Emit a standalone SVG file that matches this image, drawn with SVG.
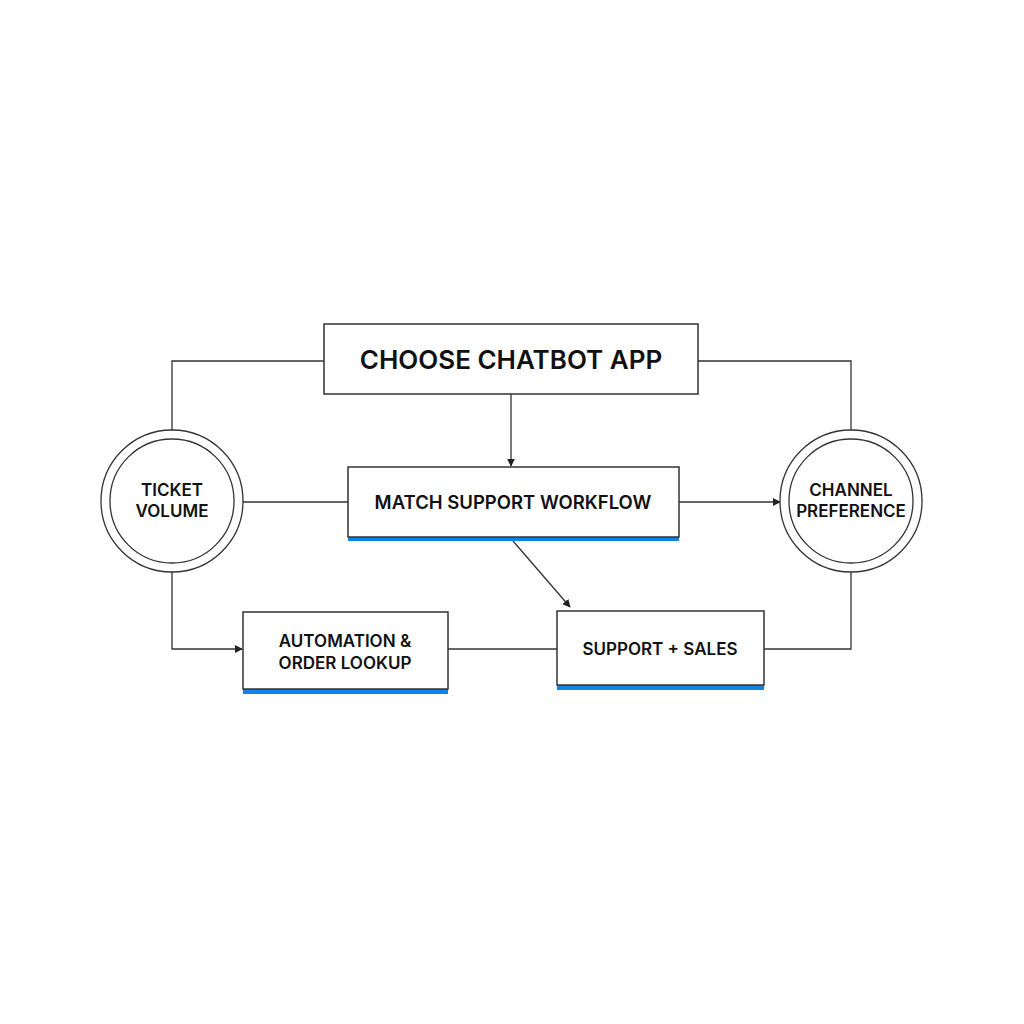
<svg xmlns="http://www.w3.org/2000/svg" width="1024" height="1024" viewBox="0 0 1024 1024">
<defs>
<style>
.box{fill:#fff;stroke:#333;stroke-width:1.5}
.bar{fill:#1283e6}
.ring{fill:#fff;stroke:#333;stroke-width:1.3}
.ln{fill:none;stroke:#333;stroke-width:1.3}
text{font-family:Inter,"Liberation Sans",sans-serif;font-weight:600;fill:#111;text-anchor:middle}
.t1{font-size:26px}
.t2{font-size:18.5px}
.t3{font-size:17px}
</style>
<marker id="ah" viewBox="0 0 10 10" refX="9" refY="5" markerWidth="8" markerHeight="8" orient="auto" markerUnits="userSpaceOnUse">
<path d="M0,0 L10,5 L0,10 Z" fill="#222"/>
</marker>
</defs>
<rect width="1024" height="1024" fill="#fff"/>
<g id="connectors">
<polyline class="ln" points="324,361 172,361 172,430"/>
<polyline class="ln" points="698,361 851,361 851,430"/>
<line class="ln" x1="511" y1="394" x2="511" y2="466" marker-end="url(#ah)"/>
<line class="ln" x1="243" y1="502" x2="348" y2="502"/>
<line class="ln" x1="679" y1="502" x2="780" y2="502" marker-end="url(#ah)"/>
<line class="ln" x1="513" y1="541" x2="570" y2="607" marker-end="url(#ah)"/>
<polyline class="ln" points="172,572 172,649 242,649" marker-end="url(#ah)"/>
<line class="ln" x1="448" y1="649" x2="557" y2="649"/>
<polyline class="ln" points="764,649 851,649 851,572"/>
</g>
<g id="choose">
<rect class="box" x="324" y="324" width="374" height="70"/>
<text class="t1" x="511" y="369">CHOOSE CHATBOT APP</text>
</g>
<g id="match">
<rect class="bar" x="348" y="535" width="331" height="6"/>
<rect class="box" x="348" y="467" width="331" height="70"/>
<text class="t2" x="513" y="509">MATCH SUPPORT WORKFLOW</text>
</g>
<g id="ticket">
<circle class="ring" cx="172" cy="501" r="71"/>
<circle class="ring" cx="172" cy="501" r="62"/>
<text class="t3" x="172" y="496">TICKET</text>
<text class="t3" x="172" y="517">VOLUME</text>
</g>
<g id="channel">
<circle class="ring" cx="851" cy="501" r="71"/>
<circle class="ring" cx="851" cy="501" r="62"/>
<text class="t3" x="851" y="496">CHANNEL</text>
<text class="t3" x="851" y="517">PREFERENCE</text>
</g>
<g id="automation">
<rect class="bar" x="243" y="688" width="205" height="6"/>
<rect class="box" x="243" y="612" width="205" height="77"/>
<text class="t3" x="345" y="647">AUTOMATION &amp;</text>
<text class="t3" x="345" y="669">ORDER LOOKUP</text>
</g>
<g id="support">
<rect class="bar" x="557" y="684" width="207" height="6"/>
<rect class="box" x="557" y="611" width="207" height="74"/>
<text class="t3" x="660" y="655">SUPPORT + SALES</text>
</g>
</svg>
